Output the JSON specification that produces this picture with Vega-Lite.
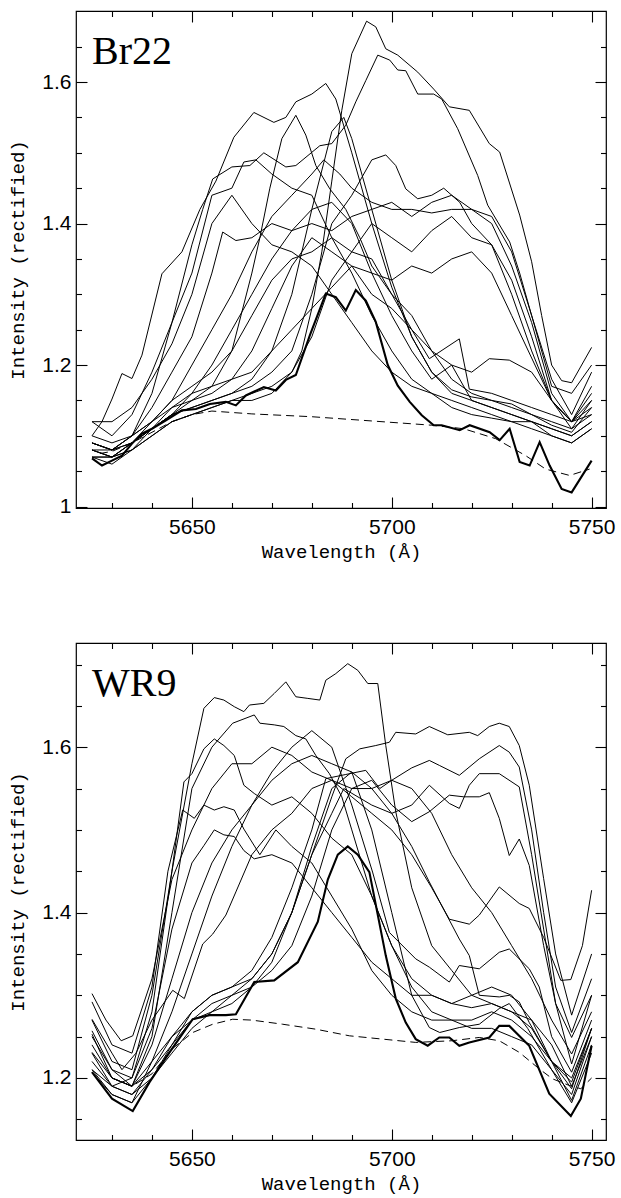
{
"$schema": "https://vega.github.io/schema/vega-lite/v6.json",
"background": "white",
"padding": {"left": 8, "top": 9, "right": 14, "bottom": 5},
"bounds": "flush",
"spacing": 135,
"config": {
  "view": {"stroke": "black", "strokeWidth": 1.2},
  "axis": {"domain": false, "grid": false, "tickColor": "black", "tickWidth": 1.1, "labelFont": "Liberation Sans", "labelFontSize": 21, "labelColor": "black", "titleFont": "Liberation Mono", "titleFontSize": 19, "titleFontWeight": "normal", "titleColor": "black", "labelOverlap": false, "labelFlush": false, "labelBound": false}
},
"datasets": {
"t": [
{"s":1,"x":5625,"y":1.1},{"s":1,"x":5627.5,"y":1.12},{"s":1,"x":5630,"y":1.152},{"s":1,"x":5632.5,"y":1.188},{"s":1,"x":5635,"y":1.181},{"s":1,"x":5637.5,"y":1.214},{"s":1,"x":5642.5,"y":1.329},{"s":1,"x":5647.5,"y":1.36},{"s":1,"x":5652,"y":1.42},{"s":1,"x":5656,"y":1.46},{"s":1,"x":5660.5,"y":1.522},{"s":1,"x":5665.5,"y":1.557},{"s":1,"x":5670.5,"y":1.543},{"s":1,"x":5673.5,"y":1.55},{"s":1,"x":5676,"y":1.572},{"s":1,"x":5680,"y":1.583},{"s":1,"x":5683.5,"y":1.598},{"s":1,"x":5686,"y":1.576},{"s":1,"x":5690,"y":1.5},{"s":1,"x":5695,"y":1.4},{"s":1,"x":5700,"y":1.31},{"s":1,"x":5705,"y":1.24},{"s":1,"x":5710,"y":1.19},{"s":1,"x":5715,"y":1.165},{"s":1,"x":5720,"y":1.155},{"s":1,"x":5725,"y":1.15},{"s":1,"x":5730,"y":1.145},{"s":1,"x":5735,"y":1.13},{"s":1,"x":5740,"y":1.115},{"s":1,"x":5745,"y":1.105},{"s":1,"x":5750,"y":1.14},
{"s":2,"x":5625,"y":1.08},{"s":2,"x":5630,"y":1.07},{"s":2,"x":5635,"y":1.08},{"s":2,"x":5640,"y":1.1},{"s":2,"x":5645,"y":1.12},{"s":2,"x":5650,"y":1.13},{"s":2,"x":5655,"y":1.14},{"s":2,"x":5660,"y":1.15},{"s":2,"x":5665,"y":1.15},{"s":2,"x":5670,"y":1.16},{"s":2,"x":5675,"y":1.19},{"s":2,"x":5677.5,"y":1.22},{"s":2,"x":5680,"y":1.28},{"s":2,"x":5682.5,"y":1.36},{"s":2,"x":5685,"y":1.46},{"s":2,"x":5687.5,"y":1.56},{"s":2,"x":5690,"y":1.64},{"s":2,"x":5693.7,"y":1.686},{"s":2,"x":5696,"y":1.678},{"s":2,"x":5698.5,"y":1.647},{"s":2,"x":5701.5,"y":1.638},{"s":2,"x":5706.5,"y":1.614},{"s":2,"x":5710.5,"y":1.59},{"s":2,"x":5714.4,"y":1.565},{"s":2,"x":5719.4,"y":1.56},{"s":2,"x":5724.4,"y":1.513},{"s":2,"x":5727,"y":1.501},{"s":2,"x":5732,"y":1.412},{"s":2,"x":5735,"y":1.346},{"s":2,"x":5737.5,"y":1.27},{"s":2,"x":5740,"y":1.2},{"s":2,"x":5742.5,"y":1.178},{"s":2,"x":5745,"y":1.175},{"s":2,"x":5750,"y":1.225},
{"s":3,"x":5625,"y":1.09},{"s":3,"x":5630,"y":1.08},{"s":3,"x":5635,"y":1.1},{"s":3,"x":5640,"y":1.16},{"s":3,"x":5645,"y":1.26},{"s":3,"x":5650,"y":1.37},{"s":3,"x":5652.7,"y":1.42},{"s":3,"x":5655.2,"y":1.463},{"s":3,"x":5660,"y":1.48},{"s":3,"x":5664.5,"y":1.482},{"s":3,"x":5668,"y":1.5},{"s":3,"x":5673.5,"y":1.48},{"s":3,"x":5676,"y":1.482},{"s":3,"x":5682,"y":1.51},{"s":3,"x":5685,"y":1.513},{"s":3,"x":5688.5,"y":1.539},{"s":3,"x":5691,"y":1.572},{"s":3,"x":5693.5,"y":1.602},{"s":3,"x":5696.5,"y":1.638},{"s":3,"x":5699.5,"y":1.631},{"s":3,"x":5701.5,"y":1.617},{"s":3,"x":5703.5,"y":1.616},{"s":3,"x":5706.5,"y":1.583},{"s":3,"x":5710.5,"y":1.583},{"s":3,"x":5712.5,"y":1.576},{"s":3,"x":5716.5,"y":1.534},{"s":3,"x":5721.5,"y":1.468},{"s":3,"x":5724,"y":1.426},{"s":3,"x":5729.5,"y":1.374},{"s":3,"x":5732,"y":1.33},{"s":3,"x":5735,"y":1.27},{"s":3,"x":5740,"y":1.17},{"s":3,"x":5745,"y":1.16},{"s":3,"x":5750,"y":1.2},
{"s":4,"x":5625,"y":1.12},{"s":4,"x":5630,"y":1.1},{"s":4,"x":5635,"y":1.13},{"s":4,"x":5640,"y":1.19},{"s":4,"x":5645,"y":1.26},{"s":4,"x":5650,"y":1.33},{"s":4,"x":5655,"y":1.44},{"s":4,"x":5660,"y":1.45},{"s":4,"x":5663,"y":1.487},{"s":4,"x":5666,"y":1.49},{"s":4,"x":5670,"y":1.47},{"s":4,"x":5675,"y":1.45},{"s":4,"x":5680,"y":1.44},{"s":4,"x":5685,"y":1.38},{"s":4,"x":5690,"y":1.33},{"s":4,"x":5695,"y":1.27},{"s":4,"x":5700,"y":1.22},{"s":4,"x":5705,"y":1.18},{"s":4,"x":5710,"y":1.16},{"s":4,"x":5715,"y":1.14},{"s":4,"x":5720,"y":1.13},{"s":4,"x":5725,"y":1.125},{"s":4,"x":5730,"y":1.12},{"s":4,"x":5735,"y":1.11},{"s":4,"x":5740,"y":1.1},{"s":4,"x":5745,"y":1.09},{"s":4,"x":5750,"y":1.11},
{"s":5,"x":5625,"y":1.1},{"s":5,"x":5630,"y":1.09},{"s":5,"x":5635,"y":1.1},{"s":5,"x":5640,"y":1.12},{"s":5,"x":5645,"y":1.15},{"s":5,"x":5650,"y":1.2},{"s":5,"x":5655,"y":1.25},{"s":5,"x":5660,"y":1.3},{"s":5,"x":5665,"y":1.36},{"s":5,"x":5670,"y":1.41},{"s":5,"x":5675,"y":1.44},{"s":5,"x":5680,"y":1.47},{"s":5,"x":5683,"y":1.49},{"s":5,"x":5687,"y":1.47},{"s":5,"x":5690,"y":1.45},{"s":5,"x":5695,"y":1.43},{"s":5,"x":5700,"y":1.42},{"s":5,"x":5705,"y":1.42},{"s":5,"x":5710,"y":1.415},{"s":5,"x":5715,"y":1.42},{"s":5,"x":5720,"y":1.42},{"s":5,"x":5725,"y":1.4},{"s":5,"x":5730,"y":1.34},{"s":5,"x":5735,"y":1.26},{"s":5,"x":5740,"y":1.16},{"s":5,"x":5745,"y":1.12},{"s":5,"x":5750,"y":1.17},
{"s":6,"x":5625,"y":1.09},{"s":6,"x":5630,"y":1.08},{"s":6,"x":5635,"y":1.09},{"s":6,"x":5640,"y":1.11},{"s":6,"x":5645,"y":1.13},{"s":6,"x":5650,"y":1.16},{"s":6,"x":5655,"y":1.2},{"s":6,"x":5660,"y":1.25},{"s":6,"x":5665,"y":1.3},{"s":6,"x":5670,"y":1.35},{"s":6,"x":5675,"y":1.39},{"s":6,"x":5680,"y":1.4},{"s":6,"x":5685,"y":1.39},{"s":6,"x":5690,"y":1.41},{"s":6,"x":5695,"y":1.42},{"s":6,"x":5700,"y":1.43},{"s":6,"x":5705,"y":1.41},{"s":6,"x":5710,"y":1.43},{"s":6,"x":5715,"y":1.44},{"s":6,"x":5720,"y":1.42},{"s":6,"x":5725,"y":1.41},{"s":6,"x":5730,"y":1.36},{"s":6,"x":5735,"y":1.27},{"s":6,"x":5740,"y":1.18},{"s":6,"x":5745,"y":1.13},{"s":6,"x":5750,"y":1.19},
{"s":7,"x":5625,"y":1.08},{"s":7,"x":5630,"y":1.07},{"s":7,"x":5635,"y":1.09},{"s":7,"x":5640,"y":1.12},{"s":7,"x":5645,"y":1.15},{"s":7,"x":5650,"y":1.17},{"s":7,"x":5655,"y":1.19},{"s":7,"x":5660,"y":1.22},{"s":7,"x":5665,"y":1.27},{"s":7,"x":5670,"y":1.32},{"s":7,"x":5675,"y":1.35},{"s":7,"x":5680,"y":1.36},{"s":7,"x":5685,"y":1.38},{"s":7,"x":5690,"y":1.36},{"s":7,"x":5695,"y":1.4},{"s":7,"x":5700,"y":1.38},{"s":7,"x":5705,"y":1.36},{"s":7,"x":5710,"y":1.39},{"s":7,"x":5715,"y":1.41},{"s":7,"x":5720,"y":1.38},{"s":7,"x":5725,"y":1.37},{"s":7,"x":5730,"y":1.32},{"s":7,"x":5735,"y":1.24},{"s":7,"x":5740,"y":1.15},{"s":7,"x":5745,"y":1.11},{"s":7,"x":5750,"y":1.15},
{"s":8,"x":5625,"y":1.07},{"s":8,"x":5630,"y":1.07},{"s":8,"x":5635,"y":1.08},{"s":8,"x":5640,"y":1.11},{"s":8,"x":5645,"y":1.14},{"s":8,"x":5650,"y":1.16},{"s":8,"x":5655,"y":1.17},{"s":8,"x":5660,"y":1.18},{"s":8,"x":5665,"y":1.19},{"s":8,"x":5670,"y":1.22},{"s":8,"x":5675,"y":1.25},{"s":8,"x":5680,"y":1.28},{"s":8,"x":5685,"y":1.31},{"s":8,"x":5690,"y":1.34},{"s":8,"x":5695,"y":1.33},{"s":8,"x":5700,"y":1.32},{"s":8,"x":5705,"y":1.34},{"s":8,"x":5710,"y":1.33},{"s":8,"x":5715,"y":1.35},{"s":8,"x":5720,"y":1.36},{"s":8,"x":5725,"y":1.33},{"s":8,"x":5730,"y":1.27},{"s":8,"x":5735,"y":1.21},{"s":8,"x":5740,"y":1.15},{"s":8,"x":5745,"y":1.12},{"s":8,"x":5750,"y":1.14},
{"s":9,"x":5625,"y":1.07},{"s":9,"x":5630,"y":1.07},{"s":9,"x":5635,"y":1.09},{"s":9,"x":5640,"y":1.11},{"s":9,"x":5645,"y":1.13},{"s":9,"x":5650,"y":1.14},{"s":9,"x":5655,"y":1.15},{"s":9,"x":5660,"y":1.16},{"s":9,"x":5665,"y":1.18},{"s":9,"x":5670,"y":1.22},{"s":9,"x":5675,"y":1.3},{"s":9,"x":5680,"y":1.42},{"s":9,"x":5685,"y":1.53},{"s":9,"x":5688,"y":1.55},{"s":9,"x":5690,"y":1.52},{"s":9,"x":5695,"y":1.42},{"s":9,"x":5700,"y":1.32},{"s":9,"x":5705,"y":1.24},{"s":9,"x":5710,"y":1.19},{"s":9,"x":5715,"y":1.16},{"s":9,"x":5720,"y":1.15},{"s":9,"x":5725,"y":1.14},{"s":9,"x":5730,"y":1.13},{"s":9,"x":5735,"y":1.12},{"s":9,"x":5740,"y":1.1},{"s":9,"x":5745,"y":1.09},{"s":9,"x":5750,"y":1.11},
{"s":10,"x":5625,"y":1.09},{"s":10,"x":5630,"y":1.08},{"s":10,"x":5635,"y":1.1},{"s":10,"x":5640,"y":1.14},{"s":10,"x":5645,"y":1.19},{"s":10,"x":5650,"y":1.24},{"s":10,"x":5655,"y":1.33},{"s":10,"x":5657.7,"y":1.388},{"s":10,"x":5661,"y":1.376},{"s":10,"x":5665,"y":1.38},{"s":10,"x":5670,"y":1.4},{"s":10,"x":5675,"y":1.39},{"s":10,"x":5680,"y":1.42},{"s":10,"x":5685,"y":1.43},{"s":10,"x":5690,"y":1.4},{"s":10,"x":5695,"y":1.33},{"s":10,"x":5700,"y":1.27},{"s":10,"x":5705,"y":1.22},{"s":10,"x":5710,"y":1.18},{"s":10,"x":5715,"y":1.2},{"s":10,"x":5720,"y":1.15},{"s":10,"x":5725,"y":1.14},{"s":10,"x":5730,"y":1.13},{"s":10,"x":5735,"y":1.12},{"s":10,"x":5740,"y":1.11},{"s":10,"x":5745,"y":1.1},{"s":10,"x":5750,"y":1.12},
{"s":11,"x":5625,"y":1.08},{"s":11,"x":5630,"y":1.08},{"s":11,"x":5635,"y":1.1},{"s":11,"x":5640,"y":1.12},{"s":11,"x":5645,"y":1.14},{"s":11,"x":5650,"y":1.15},{"s":11,"x":5655,"y":1.16},{"s":11,"x":5660,"y":1.18},{"s":11,"x":5665,"y":1.22},{"s":11,"x":5670,"y":1.28},{"s":11,"x":5675,"y":1.34},{"s":11,"x":5680,"y":1.38},{"s":11,"x":5685,"y":1.36},{"s":11,"x":5690,"y":1.34},{"s":11,"x":5695,"y":1.3},{"s":11,"x":5700,"y":1.28},{"s":11,"x":5705,"y":1.25},{"s":11,"x":5709.4,"y":1.209},{"s":11,"x":5716.9,"y":1.237},{"s":11,"x":5719.4,"y":1.166},{"s":11,"x":5725,"y":1.16},{"s":11,"x":5730,"y":1.15},{"s":11,"x":5735,"y":1.14},{"s":11,"x":5740,"y":1.13},{"s":11,"x":5745,"y":1.12},{"s":11,"x":5750,"y":1.16},
{"s":12,"x":5625,"y":1.07},{"s":12,"x":5630,"y":1.06},{"s":12,"x":5635,"y":1.08},{"s":12,"x":5640,"y":1.1},{"s":12,"x":5645,"y":1.12},{"s":12,"x":5650,"y":1.13},{"s":12,"x":5655,"y":1.14},{"s":12,"x":5660,"y":1.15},{"s":12,"x":5665,"y":1.16},{"s":12,"x":5670,"y":1.17},{"s":12,"x":5675,"y":1.19},{"s":12,"x":5680,"y":1.24},{"s":12,"x":5685,"y":1.32},{"s":12,"x":5690,"y":1.36},{"s":12,"x":5695,"y":1.35},{"s":12,"x":5700,"y":1.3},{"s":12,"x":5705,"y":1.25},{"s":12,"x":5710,"y":1.22},{"s":12,"x":5715,"y":1.2},{"s":12,"x":5720,"y":1.19},{"s":12,"x":5724.4,"y":1.209},{"s":12,"x":5729.4,"y":1.207},{"s":12,"x":5735,"y":1.19},{"s":12,"x":5740,"y":1.15},{"s":12,"x":5742.5,"y":1.134},{"s":12,"x":5745,"y":1.12},{"s":12,"x":5750,"y":1.13},
{"s":13,"x":5625,"y":1.12},{"s":13,"x":5630,"y":1.12},{"s":13,"x":5635,"y":1.14},{"s":13,"x":5640,"y":1.18},{"s":13,"x":5645,"y":1.23},{"s":13,"x":5650,"y":1.3},{"s":13,"x":5655,"y":1.4},{"s":13,"x":5660,"y":1.44},{"s":13,"x":5665,"y":1.4},{"s":13,"x":5670,"y":1.37},{"s":13,"x":5675,"y":1.36},{"s":13,"x":5680,"y":1.34},{"s":13,"x":5685,"y":1.3},{"s":13,"x":5690,"y":1.26},{"s":13,"x":5695,"y":1.22},{"s":13,"x":5700,"y":1.19},{"s":13,"x":5705,"y":1.17},{"s":13,"x":5710,"y":1.16},{"s":13,"x":5715,"y":1.15},{"s":13,"x":5720,"y":1.14},{"s":13,"x":5725,"y":1.13},{"s":13,"x":5730,"y":1.12},{"s":13,"x":5735,"y":1.12},{"s":13,"x":5740,"y":1.11},{"s":13,"x":5745,"y":1.1},{"s":13,"x":5750,"y":1.12},
{"s":14,"x":5625,"y":1.08},{"s":14,"x":5630,"y":1.07},{"s":14,"x":5635,"y":1.09},{"s":14,"x":5640,"y":1.11},{"s":14,"x":5645,"y":1.13},{"s":14,"x":5650,"y":1.14},{"s":14,"x":5655,"y":1.15},{"s":14,"x":5660,"y":1.16},{"s":14,"x":5665,"y":1.17},{"s":14,"x":5670,"y":1.19},{"s":14,"x":5675,"y":1.22},{"s":14,"x":5680,"y":1.3},{"s":14,"x":5685,"y":1.4},{"s":14,"x":5690,"y":1.44},{"s":14,"x":5695,"y":1.49},{"s":14,"x":5698.5,"y":1.497},{"s":14,"x":5701,"y":1.482},{"s":14,"x":5703.5,"y":1.449},{"s":14,"x":5706.5,"y":1.435},{"s":14,"x":5710,"y":1.44},{"s":14,"x":5713,"y":1.45},{"s":14,"x":5717,"y":1.43},{"s":14,"x":5720,"y":1.4},{"s":14,"x":5725,"y":1.37},{"s":14,"x":5730,"y":1.3},{"s":14,"x":5735,"y":1.22},{"s":14,"x":5740,"y":1.15},{"s":14,"x":5745,"y":1.12},{"s":14,"x":5750,"y":1.15},
{"s":15,"x":5625,"y":1.09},{"s":15,"x":5630,"y":1.08},{"s":15,"x":5635,"y":1.09},{"s":15,"x":5640,"y":1.11},{"s":15,"x":5645,"y":1.13},{"s":15,"x":5650,"y":1.15},{"s":15,"x":5655,"y":1.17},{"s":15,"x":5660,"y":1.22},{"s":15,"x":5665,"y":1.33},{"s":15,"x":5667,"y":1.38},{"s":15,"x":5669.5,"y":1.45},{"s":15,"x":5672.5,"y":1.52},{"s":15,"x":5676,"y":1.553},{"s":15,"x":5678.5,"y":1.525},{"s":15,"x":5681,"y":1.482},{"s":15,"x":5684.5,"y":1.449},{"s":15,"x":5688.5,"y":1.42},{"s":15,"x":5692,"y":1.38},{"s":15,"x":5695,"y":1.34},{"s":15,"x":5700,"y":1.3},{"s":15,"x":5705,"y":1.27},{"s":15,"x":5710,"y":1.22},{"s":15,"x":5715,"y":1.18},{"s":15,"x":5720,"y":1.16},{"s":15,"x":5725,"y":1.15},{"s":15,"x":5730,"y":1.14},{"s":15,"x":5735,"y":1.13},{"s":15,"x":5740,"y":1.12},{"s":15,"x":5745,"y":1.11},{"s":15,"x":5750,"y":1.13}
],
"tb": [
{"x":5625,"y":1.068},{"x":5627.5,"y":1.058},{"x":5630,"y":1.065},{"x":5632.5,"y":1.072},{"x":5635,"y":1.089},{"x":5637.5,"y":1.103},{"x":5640,"y":1.11},{"x":5643.5,"y":1.122},{"x":5647.5,"y":1.136},{"x":5651,"y":1.138},{"x":5654.5,"y":1.145},{"x":5658.5,"y":1.148},{"x":5661,"y":1.143},{"x":5663.5,"y":1.157},{"x":5668,"y":1.169},{"x":5671,"y":1.164},{"x":5673.5,"y":1.179},{"x":5676,"y":1.186},{"x":5679.5,"y":1.242},{"x":5683.5,"y":1.301},{"x":5686,"y":1.296},{"x":5688.5,"y":1.277},{"x":5691,"y":1.306},{"x":5693.5,"y":1.291},{"x":5696,"y":1.261},{"x":5699,"y":1.2},{"x":5701.5,"y":1.171},{"x":5704.5,"y":1.148},{"x":5707.5,"y":1.129},{"x":5710.5,"y":1.115},{"x":5712.5,"y":1.115},{"x":5717,"y":1.108},{"x":5719.5,"y":1.115},{"x":5724.5,"y":1.105},{"x":5727,"y":1.094},{"x":5729.5,"y":1.11},{"x":5732,"y":1.063},{"x":5734.5,"y":1.058},{"x":5737,"y":1.091},{"x":5739.5,"y":1.058},{"x":5742.5,"y":1.025},{"x":5745,"y":1.02},{"x":5750,"y":1.065}
],
"td": [
{"x":5627,"y":1.075},{"x":5630,"y":1.078},{"x":5635,"y":1.09},{"x":5640,"y":1.105},{"x":5645,"y":1.12},{"x":5650,"y":1.13},{"x":5655,"y":1.135},{"x":5665,"y":1.131},{"x":5680,"y":1.127},{"x":5695,"y":1.121},{"x":5710,"y":1.115},{"x":5718,"y":1.11},{"x":5726,"y":1.096},{"x":5733.5,"y":1.072},{"x":5738.5,"y":1.053},{"x":5744.5,"y":1.044},{"x":5749.5,"y":1.053}
],
"b": [
{"s":1,"x":5625,"y":1.25},{"s":1,"x":5630,"y":1.21},{"s":1,"x":5635,"y":1.2},{"s":1,"x":5640,"y":1.28},{"s":1,"x":5645,"y":1.45},{"s":1,"x":5650,"y":1.58},{"s":1,"x":5653,"y":1.647},{"s":1,"x":5655.6,"y":1.66},{"s":1,"x":5658,"y":1.657},{"s":1,"x":5660.6,"y":1.649},{"s":1,"x":5663,"y":1.643},{"s":1,"x":5664.4,"y":1.651},{"s":1,"x":5668,"y":1.653},{"s":1,"x":5670.6,"y":1.665},{"s":1,"x":5673.5,"y":1.679},{"s":1,"x":5676,"y":1.661},{"s":1,"x":5679,"y":1.659},{"s":1,"x":5682,"y":1.657},{"s":1,"x":5683.5,"y":1.681},{"s":1,"x":5686,"y":1.689},{"s":1,"x":5689,"y":1.701},{"s":1,"x":5691.5,"y":1.693},{"s":1,"x":5694,"y":1.677},{"s":1,"x":5696.5,"y":1.677},{"s":1,"x":5698.5,"y":1.602},{"s":1,"x":5701,"y":1.522},{"s":1,"x":5705,"y":1.43},{"s":1,"x":5710,"y":1.36},{"s":1,"x":5715,"y":1.33},{"s":1,"x":5720,"y":1.3},{"s":1,"x":5725,"y":1.29},{"s":1,"x":5730,"y":1.28},{"s":1,"x":5735,"y":1.27},{"s":1,"x":5740,"y":1.24},{"s":1,"x":5745,"y":1.19},{"s":1,"x":5750,"y":1.25},
{"s":2,"x":5625,"y":1.27},{"s":2,"x":5630,"y":1.22},{"s":2,"x":5635,"y":1.21},{"s":2,"x":5640,"y":1.3},{"s":2,"x":5645,"y":1.45},{"s":2,"x":5648,"y":1.558},{"s":2,"x":5650,"y":1.568},{"s":2,"x":5653,"y":1.598},{"s":2,"x":5655.6,"y":1.61},{"s":2,"x":5658,"y":1.602},{"s":2,"x":5660.6,"y":1.59},{"s":2,"x":5663,"y":1.554},{"s":2,"x":5665.6,"y":1.544},{"s":2,"x":5670,"y":1.53},{"s":2,"x":5675,"y":1.54},{"s":2,"x":5680,"y":1.52},{"s":2,"x":5685,"y":1.49},{"s":2,"x":5690,"y":1.47},{"s":2,"x":5695,"y":1.42},{"s":2,"x":5700,"y":1.36},{"s":2,"x":5705,"y":1.31},{"s":2,"x":5710,"y":1.28},{"s":2,"x":5715,"y":1.27},{"s":2,"x":5720,"y":1.26},{"s":2,"x":5725,"y":1.26},{"s":2,"x":5730,"y":1.25},{"s":2,"x":5735,"y":1.24},{"s":2,"x":5740,"y":1.21},{"s":2,"x":5745,"y":1.17},{"s":2,"x":5750,"y":1.23},
{"s":3,"x":5625,"y":1.292},{"s":3,"x":5630,"y":1.24},{"s":3,"x":5635,"y":1.23},{"s":3,"x":5640,"y":1.31},{"s":3,"x":5644,"y":1.45},{"s":3,"x":5647.7,"y":1.524},{"s":3,"x":5650.6,"y":1.514},{"s":3,"x":5653,"y":1.53},{"s":3,"x":5655.6,"y":1.524},{"s":3,"x":5658,"y":1.528},{"s":3,"x":5660.6,"y":1.524},{"s":3,"x":5663,"y":1.501},{"s":3,"x":5667,"y":1.47},{"s":3,"x":5671,"y":1.5},{"s":3,"x":5675,"y":1.48},{"s":3,"x":5680,"y":1.46},{"s":3,"x":5685,"y":1.42},{"s":3,"x":5690,"y":1.38},{"s":3,"x":5695,"y":1.33},{"s":3,"x":5700,"y":1.3},{"s":3,"x":5705,"y":1.28},{"s":3,"x":5710,"y":1.27},{"s":3,"x":5715,"y":1.27},{"s":3,"x":5720,"y":1.27},{"s":3,"x":5725,"y":1.28},{"s":3,"x":5730,"y":1.27},{"s":3,"x":5735,"y":1.25},{"s":3,"x":5740,"y":1.22},{"s":3,"x":5745,"y":1.2},{"s":3,"x":5750,"y":1.26},
{"s":4,"x":5625,"y":1.22},{"s":4,"x":5630,"y":1.19},{"s":4,"x":5635,"y":1.2},{"s":4,"x":5640,"y":1.26},{"s":4,"x":5645,"y":1.38},{"s":4,"x":5650,"y":1.46},{"s":4,"x":5653,"y":1.481},{"s":4,"x":5655.6,"y":1.5},{"s":4,"x":5658,"y":1.494},{"s":4,"x":5660.6,"y":1.492},{"s":4,"x":5663,"y":1.475},{"s":4,"x":5665.6,"y":1.465},{"s":4,"x":5670,"y":1.47},{"s":4,"x":5675,"y":1.46},{"s":4,"x":5680,"y":1.43},{"s":4,"x":5685,"y":1.4},{"s":4,"x":5690,"y":1.37},{"s":4,"x":5695,"y":1.34},{"s":4,"x":5700,"y":1.32},{"s":4,"x":5705,"y":1.3},{"s":4,"x":5710,"y":1.3},{"s":4,"x":5715,"y":1.29},{"s":4,"x":5720,"y":1.3},{"s":4,"x":5725,"y":1.31},{"s":4,"x":5730,"y":1.3},{"s":4,"x":5735,"y":1.27},{"s":4,"x":5740,"y":1.22},{"s":4,"x":5745,"y":1.173},{"s":4,"x":5750,"y":1.24},
{"s":5,"x":5625,"y":1.257},{"s":5,"x":5630,"y":1.21},{"s":5,"x":5635,"y":1.19},{"s":5,"x":5640,"y":1.25},{"s":5,"x":5645,"y":1.4},{"s":5,"x":5650,"y":1.55},{"s":5,"x":5655,"y":1.6},{"s":5,"x":5660.2,"y":1.629},{"s":5,"x":5665.6,"y":1.639},{"s":5,"x":5667,"y":1.629},{"s":5,"x":5670.6,"y":1.627},{"s":5,"x":5673,"y":1.625},{"s":5,"x":5676,"y":1.614},{"s":5,"x":5678.5,"y":1.61},{"s":5,"x":5681,"y":1.59},{"s":5,"x":5684.4,"y":1.568},{"s":5,"x":5687.5,"y":1.54},{"s":5,"x":5690,"y":1.5},{"s":5,"x":5695,"y":1.42},{"s":5,"x":5700,"y":1.36},{"s":5,"x":5705,"y":1.32},{"s":5,"x":5710,"y":1.3},{"s":5,"x":5715,"y":1.29},{"s":5,"x":5720,"y":1.285},{"s":5,"x":5725,"y":1.29},{"s":5,"x":5730,"y":1.28},{"s":5,"x":5735,"y":1.26},{"s":5,"x":5740,"y":1.22},{"s":5,"x":5745,"y":1.195},{"s":5,"x":5750,"y":1.26},
{"s":6,"x":5625,"y":1.21},{"s":6,"x":5630,"y":1.19},{"s":6,"x":5635,"y":1.18},{"s":6,"x":5640,"y":1.21},{"s":6,"x":5645,"y":1.24},{"s":6,"x":5650,"y":1.27},{"s":6,"x":5655,"y":1.29},{"s":6,"x":5660,"y":1.3},{"s":6,"x":5665,"y":1.32},{"s":6,"x":5670,"y":1.35},{"s":6,"x":5675,"y":1.4},{"s":6,"x":5680,"y":1.47},{"s":6,"x":5685,"y":1.54},{"s":6,"x":5688.5,"y":1.586},{"s":6,"x":5692,"y":1.598},{"s":6,"x":5696,"y":1.602},{"s":6,"x":5699.4,"y":1.606},{"s":6,"x":5701,"y":1.618},{"s":6,"x":5706,"y":1.616},{"s":6,"x":5709.4,"y":1.625},{"s":6,"x":5714,"y":1.615},{"s":6,"x":5719.4,"y":1.618},{"s":6,"x":5721.5,"y":1.614},{"s":6,"x":5724.4,"y":1.625},{"s":6,"x":5726.9,"y":1.629},{"s":6,"x":5729.4,"y":1.625},{"s":6,"x":5731.9,"y":1.602},{"s":6,"x":5734.4,"y":1.554},{"s":6,"x":5738,"y":1.441},{"s":6,"x":5741,"y":1.35},{"s":6,"x":5745,"y":1.276},{"s":6,"x":5750,"y":1.35},
{"s":7,"x":5625,"y":1.24},{"s":7,"x":5630,"y":1.2},{"s":7,"x":5635,"y":1.19},{"s":7,"x":5640,"y":1.22},{"s":7,"x":5645,"y":1.25},{"s":7,"x":5650,"y":1.28},{"s":7,"x":5655,"y":1.3},{"s":7,"x":5660,"y":1.31},{"s":7,"x":5665,"y":1.33},{"s":7,"x":5670,"y":1.37},{"s":7,"x":5675,"y":1.43},{"s":7,"x":5680,"y":1.5},{"s":7,"x":5683.5,"y":1.562},{"s":7,"x":5688.5,"y":1.567},{"s":7,"x":5693.5,"y":1.572},{"s":7,"x":5697,"y":1.55},{"s":7,"x":5700,"y":1.56},{"s":7,"x":5705,"y":1.575},{"s":7,"x":5709.4,"y":1.584},{"s":7,"x":5711.9,"y":1.578},{"s":7,"x":5716.9,"y":1.566},{"s":7,"x":5721.9,"y":1.586},{"s":7,"x":5726.9,"y":1.602},{"s":7,"x":5729.4,"y":1.594},{"s":7,"x":5731.9,"y":1.576},{"s":7,"x":5735,"y":1.5},{"s":7,"x":5738,"y":1.4},{"s":7,"x":5741,"y":1.31},{"s":7,"x":5745,"y":1.255},{"s":7,"x":5750,"y":1.32},
{"s":8,"x":5625,"y":1.23},{"s":8,"x":5630,"y":1.19},{"s":8,"x":5635,"y":1.18},{"s":8,"x":5640,"y":1.2},{"s":8,"x":5645,"y":1.23},{"s":8,"x":5650,"y":1.26},{"s":8,"x":5655,"y":1.28},{"s":8,"x":5660,"y":1.29},{"s":8,"x":5665,"y":1.31},{"s":8,"x":5670,"y":1.34},{"s":8,"x":5675,"y":1.4},{"s":8,"x":5680,"y":1.47},{"s":8,"x":5685,"y":1.52},{"s":8,"x":5688,"y":1.55},{"s":8,"x":5695,"y":1.53},{"s":8,"x":5700,"y":1.52},{"s":8,"x":5705,"y":1.53},{"s":8,"x":5709.4,"y":1.554},{"s":8,"x":5714.4,"y":1.532},{"s":8,"x":5716.9,"y":1.526},{"s":8,"x":5719.4,"y":1.554},{"s":8,"x":5721.9,"y":1.568},{"s":8,"x":5726.9,"y":1.568},{"s":8,"x":5731.9,"y":1.552},{"s":8,"x":5735,"y":1.47},{"s":8,"x":5738,"y":1.38},{"s":8,"x":5741,"y":1.29},{"s":8,"x":5745,"y":1.217},{"s":8,"x":5750,"y":1.3},
{"s":9,"x":5625,"y":1.231},{"s":9,"x":5630,"y":1.2},{"s":9,"x":5635,"y":1.19},{"s":9,"x":5640,"y":1.21},{"s":9,"x":5645,"y":1.25},{"s":9,"x":5650,"y":1.27},{"s":9,"x":5655,"y":1.28},{"s":9,"x":5660,"y":1.3},{"s":9,"x":5665,"y":1.31},{"s":9,"x":5670,"y":1.33},{"s":9,"x":5675,"y":1.36},{"s":9,"x":5680,"y":1.42},{"s":9,"x":5685,"y":1.5},{"s":9,"x":5690,"y":1.55},{"s":9,"x":5695,"y":1.56},{"s":9,"x":5700,"y":1.53},{"s":9,"x":5705,"y":1.51},{"s":9,"x":5709.4,"y":1.522},{"s":9,"x":5714.4,"y":1.542},{"s":9,"x":5718,"y":1.54},{"s":9,"x":5721.9,"y":1.54},{"s":9,"x":5724.4,"y":1.545},{"s":9,"x":5726.9,"y":1.514},{"s":9,"x":5729.4,"y":1.469},{"s":9,"x":5731.9,"y":1.489},{"s":9,"x":5734.4,"y":1.457},{"s":9,"x":5738,"y":1.36},{"s":9,"x":5741,"y":1.29},{"s":9,"x":5745,"y":1.249},{"s":9,"x":5750,"y":1.3},
{"s":10,"x":5625,"y":1.302},{"s":10,"x":5628.5,"y":1.27},{"s":10,"x":5632.3,"y":1.245},{"s":10,"x":5635.2,"y":1.251},{"s":10,"x":5640,"y":1.32},{"s":10,"x":5645,"y":1.44},{"s":10,"x":5650,"y":1.5},{"s":10,"x":5655,"y":1.55},{"s":10,"x":5660,"y":1.58},{"s":10,"x":5665,"y":1.58},{"s":10,"x":5670,"y":1.6},{"s":10,"x":5675,"y":1.59},{"s":10,"x":5680,"y":1.57},{"s":10,"x":5685,"y":1.56},{"s":10,"x":5690,"y":1.54},{"s":10,"x":5695,"y":1.52},{"s":10,"x":5700,"y":1.5},{"s":10,"x":5705,"y":1.47},{"s":10,"x":5710,"y":1.43},{"s":10,"x":5714.4,"y":1.392},{"s":10,"x":5719.4,"y":1.386},{"s":10,"x":5721.9,"y":1.397},{"s":10,"x":5726.9,"y":1.431},{"s":10,"x":5731.9,"y":1.411},{"s":10,"x":5734.4,"y":1.405},{"s":10,"x":5738,"y":1.37},{"s":10,"x":5742.3,"y":1.318},{"s":10,"x":5744.8,"y":1.319},{"s":10,"x":5747.7,"y":1.36},{"s":10,"x":5750,"y":1.427},
{"s":11,"x":5625,"y":1.253},{"s":11,"x":5630,"y":1.2},{"s":11,"x":5635,"y":1.19},{"s":11,"x":5640,"y":1.24},{"s":11,"x":5645,"y":1.32},{"s":11,"x":5650,"y":1.4},{"s":11,"x":5655,"y":1.46},{"s":11,"x":5660,"y":1.5},{"s":11,"x":5665,"y":1.53},{"s":11,"x":5670,"y":1.56},{"s":11,"x":5675,"y":1.58},{"s":11,"x":5680,"y":1.59},{"s":11,"x":5685,"y":1.58},{"s":11,"x":5690,"y":1.57},{"s":11,"x":5695,"y":1.55},{"s":11,"x":5700,"y":1.52},{"s":11,"x":5705,"y":1.48},{"s":11,"x":5709.4,"y":1.437},{"s":11,"x":5716.9,"y":1.368},{"s":11,"x":5719.4,"y":1.348},{"s":11,"x":5721.9,"y":1.3},{"s":11,"x":5726.9,"y":1.298},{"s":11,"x":5729.4,"y":1.3},{"s":11,"x":5731.9,"y":1.292},{"s":11,"x":5734.4,"y":1.267},{"s":11,"x":5740,"y":1.22},{"s":11,"x":5745,"y":1.187},{"s":11,"x":5750,"y":1.26},
{"s":12,"x":5625,"y":1.207},{"s":12,"x":5630,"y":1.18},{"s":12,"x":5635,"y":1.17},{"s":12,"x":5640,"y":1.22},{"s":12,"x":5645,"y":1.28},{"s":12,"x":5650,"y":1.35},{"s":12,"x":5655,"y":1.42},{"s":12,"x":5660,"y":1.48},{"s":12,"x":5665,"y":1.53},{"s":12,"x":5670,"y":1.57},{"s":12,"x":5675,"y":1.6},{"s":12,"x":5680,"y":1.62},{"s":12,"x":5685,"y":1.6},{"s":12,"x":5690,"y":1.53},{"s":12,"x":5695.2,"y":1.449},{"s":12,"x":5699.4,"y":1.376},{"s":12,"x":5706,"y":1.344},{"s":12,"x":5709.4,"y":1.334},{"s":12,"x":5714.4,"y":1.316},{"s":12,"x":5716.9,"y":1.336},{"s":12,"x":5721.9,"y":1.332},{"s":12,"x":5726.9,"y":1.352},{"s":12,"x":5729.4,"y":1.356},{"s":12,"x":5734.4,"y":1.332},{"s":12,"x":5736.9,"y":1.31},{"s":12,"x":5740,"y":1.25},{"s":12,"x":5745,"y":1.207},{"s":12,"x":5750,"y":1.27},
{"s":13,"x":5625,"y":1.21},{"s":13,"x":5630,"y":1.18},{"s":13,"x":5635,"y":1.17},{"s":13,"x":5640,"y":1.2},{"s":13,"x":5645,"y":1.24},{"s":13,"x":5650,"y":1.28},{"s":13,"x":5655,"y":1.3},{"s":13,"x":5660,"y":1.31},{"s":13,"x":5665,"y":1.32},{"s":13,"x":5670,"y":1.35},{"s":13,"x":5675,"y":1.4},{"s":13,"x":5680,"y":1.48},{"s":13,"x":5685,"y":1.55},{"s":13,"x":5690,"y":1.57},{"s":13,"x":5695,"y":1.5},{"s":13,"x":5700,"y":1.4},{"s":13,"x":5705,"y":1.3},{"s":13,"x":5709.4,"y":1.261},{"s":13,"x":5712,"y":1.255},{"s":13,"x":5716.9,"y":1.261},{"s":13,"x":5721.9,"y":1.265},{"s":13,"x":5726.9,"y":1.284},{"s":13,"x":5729.4,"y":1.29},{"s":13,"x":5734,"y":1.26},{"s":13,"x":5740,"y":1.21},{"s":13,"x":5745,"y":1.18},{"s":13,"x":5750,"y":1.25},
{"s":14,"x":5625,"y":1.271},{"s":14,"x":5630,"y":1.23},{"s":14,"x":5632.5,"y":1.21},{"s":14,"x":5636,"y":1.23},{"s":14,"x":5640,"y":1.27},{"s":14,"x":5645.2,"y":1.306},{"s":14,"x":5648.1,"y":1.296},{"s":14,"x":5652.7,"y":1.362},{"s":14,"x":5655.2,"y":1.374},{"s":14,"x":5658.5,"y":1.397},{"s":14,"x":5661,"y":1.425},{"s":14,"x":5665,"y":1.47},{"s":14,"x":5670,"y":1.5},{"s":14,"x":5675,"y":1.52},{"s":14,"x":5680,"y":1.55},{"s":14,"x":5685,"y":1.56},{"s":14,"x":5690,"y":1.55},{"s":14,"x":5695,"y":1.55},{"s":14,"x":5700,"y":1.56},{"s":14,"x":5705,"y":1.55},{"s":14,"x":5710,"y":1.52},{"s":14,"x":5715,"y":1.47},{"s":14,"x":5720,"y":1.43},{"s":14,"x":5725,"y":1.4},{"s":14,"x":5730,"y":1.36},{"s":14,"x":5735,"y":1.32},{"s":14,"x":5740,"y":1.27},{"s":14,"x":5745,"y":1.229},{"s":14,"x":5750,"y":1.28}
],
"bb": [
{"x":5625,"y":1.207},{"x":5630,"y":1.175},{"x":5635.2,"y":1.16},{"x":5639.4,"y":1.195},{"x":5644.4,"y":1.231},{"x":5650.2,"y":1.271},{"x":5654.4,"y":1.276},{"x":5658.5,"y":1.276},{"x":5661,"y":1.277},{"x":5665.6,"y":1.316},{"x":5670.6,"y":1.318},{"x":5676.5,"y":1.34},{"x":5681.5,"y":1.389},{"x":5684,"y":1.44},{"x":5686.5,"y":1.47},{"x":5689,"y":1.48},{"x":5691.5,"y":1.47},{"x":5694.4,"y":1.449},{"x":5698.5,"y":1.348},{"x":5701,"y":1.296},{"x":5703.5,"y":1.267},{"x":5706,"y":1.247},{"x":5709,"y":1.239},{"x":5711.9,"y":1.249},{"x":5714.4,"y":1.249},{"x":5716.9,"y":1.239},{"x":5719.4,"y":1.243},{"x":5724.4,"y":1.249},{"x":5726.9,"y":1.263},{"x":5729.4,"y":1.263},{"x":5734.4,"y":1.239},{"x":5739.4,"y":1.181},{"x":5744.8,"y":1.154},{"x":5747.3,"y":1.175},{"x":5750,"y":1.239}
],
"bd": [
{"x":5630,"y":1.2},{"x":5635,"y":1.19},{"x":5640,"y":1.205},{"x":5645,"y":1.235},{"x":5650.2,"y":1.255},{"x":5655.2,"y":1.265},{"x":5660.2,"y":1.271},{"x":5665,"y":1.27},{"x":5672.7,"y":1.265},{"x":5681,"y":1.259},{"x":5689.4,"y":1.251},{"x":5697.7,"y":1.247},{"x":5706,"y":1.243},{"x":5715,"y":1.245},{"x":5721.9,"y":1.249},{"x":5726.9,"y":1.245},{"x":5731.9,"y":1.231},{"x":5736.9,"y":1.211},{"x":5740.2,"y":1.199},{"x":5744.4,"y":1.191},{"x":5747.3,"y":1.187},{"x":5750,"y":1.2}
]
},
"vconcat": [
{
  "width": 530, "height": 497,
  "title": {"text": "Br22", "anchor": "start", "frame": "group", "offset": -94, "dx": 16, "baseline": "alphabetic", "font": "Liberation Serif", "fontSize": 40, "fontWeight": "normal", "color": "black"},
  "resolve": {"axis": {"x": "independent", "y": "independent"}},
  "layer": [
    {"data": {"name": "t"}, "mark": {"type": "line", "color": "black", "strokeWidth": 1},
     "encoding": {
       "x": {"field": "x", "type": "quantitative", "scale": {"domain": [5621, 5753.6], "nice": false, "zero": false},
             "axis": {"orient": "bottom", "values": [5630,5640,5650,5660,5670,5680,5690,5700,5710,5720,5730,5740,5750], "labelExpr": "datum.value % 50 == 0 ? '' + datum.value : ''", "tickSize": {"condition": {"test": "datum.value % 50 == 0", "value": -11}, "value": -5.5}, "labelPadding": 19, "title": "Wavelength (Å)", "titlePadding": 0}},
       "y": {"field": "y", "type": "quantitative", "scale": {"domain": [0.998, 1.7004], "nice": false, "zero": false},
             "axis": {"orient": "left", "values": [1,1.05,1.1,1.15,1.2,1.25,1.3,1.35,1.4,1.45,1.5,1.55,1.6,1.65], "labelExpr": "abs(datum.value*5 - round(datum.value*5)) < 0.001 ? '' + round(datum.value*10)/10 : ''", "tickSize": {"condition": {"test": "abs(datum.value*5 - round(datum.value*5)) < 0.001", "value": -11}, "value": -5.5}, "labelPadding": 16, "title": "Intensity (rectified)", "titlePadding": 14}},
       "detail": {"field": "s", "type": "nominal"}
     }},
    {"data": {"name": "tb"}, "mark": {"type": "line", "color": "black", "strokeWidth": 2.1},
     "encoding": {
       "x": {"field": "x", "type": "quantitative", "axis": {"orient": "top", "values": [5630,5640,5650,5660,5670,5680,5690,5700,5710,5720,5730,5740,5750], "labels": false, "title": null, "tickSize": {"condition": {"test": "datum.value % 50 == 0", "value": -11}, "value": -5.5}}},
       "y": {"field": "y", "type": "quantitative", "axis": {"orient": "right", "values": [1,1.05,1.1,1.15,1.2,1.25,1.3,1.35,1.4,1.45,1.5,1.55,1.6,1.65], "labels": false, "title": null, "tickSize": {"condition": {"test": "abs(datum.value*5 - round(datum.value*5)) < 0.001", "value": -11}, "value": -5.5}}}
     }},
    {"data": {"name": "td"}, "mark": {"type": "line", "color": "black", "strokeWidth": 1, "strokeDash": [8, 5]},
     "encoding": {
       "x": {"field": "x", "type": "quantitative", "axis": null},
       "y": {"field": "y", "type": "quantitative", "axis": null}
     }}
  ]
},
{
  "width": 530, "height": 497,
  "title": {"text": "WR9", "anchor": "start", "frame": "group", "offset": -94, "dx": 16, "baseline": "alphabetic", "font": "Liberation Serif", "fontSize": 40, "fontWeight": "normal", "color": "black"},
  "resolve": {"axis": {"x": "independent", "y": "independent"}},
  "layer": [
    {"data": {"name": "b"}, "mark": {"type": "line", "color": "black", "strokeWidth": 1},
     "encoding": {
       "x": {"field": "x", "type": "quantitative", "scale": {"domain": [5621, 5753.6], "nice": false, "zero": false},
             "axis": {"orient": "bottom", "values": [5630,5640,5650,5660,5670,5680,5690,5700,5710,5720,5730,5740,5750], "labelExpr": "datum.value % 50 == 0 ? '' + datum.value : ''", "tickSize": {"condition": {"test": "datum.value % 50 == 0", "value": -11}, "value": -5.5}, "labelPadding": 19, "title": "Wavelength (Å)", "titlePadding": 0}},
       "y": {"field": "y", "type": "quantitative", "scale": {"domain": [1.125, 1.726], "nice": false, "zero": false},
             "axis": {"orient": "left", "values": [1.15,1.2,1.25,1.3,1.35,1.4,1.45,1.5,1.55,1.6,1.65,1.7], "labelExpr": "abs(datum.value*5 - round(datum.value*5)) < 0.001 ? '' + round(datum.value*10)/10 : ''", "tickSize": {"condition": {"test": "abs(datum.value*5 - round(datum.value*5)) < 0.001", "value": -11}, "value": -5.5}, "labelPadding": 16, "title": "Intensity (rectified)", "titlePadding": 14}},
       "detail": {"field": "s", "type": "nominal"}
     }},
    {"data": {"name": "bb"}, "mark": {"type": "line", "color": "black", "strokeWidth": 2.1},
     "encoding": {
       "x": {"field": "x", "type": "quantitative", "axis": {"orient": "top", "values": [5630,5640,5650,5660,5670,5680,5690,5700,5710,5720,5730,5740,5750], "labels": false, "title": null, "tickSize": {"condition": {"test": "datum.value % 50 == 0", "value": -11}, "value": -5.5}}},
       "y": {"field": "y", "type": "quantitative", "axis": {"orient": "right", "values": [1.15,1.2,1.25,1.3,1.35,1.4,1.45,1.5,1.55,1.6,1.65,1.7], "labels": false, "title": null, "tickSize": {"condition": {"test": "abs(datum.value*5 - round(datum.value*5)) < 0.001", "value": -11}, "value": -5.5}}}
     }},
    {"data": {"name": "bd"}, "mark": {"type": "line", "color": "black", "strokeWidth": 1, "strokeDash": [8, 5]},
     "encoding": {
       "x": {"field": "x", "type": "quantitative", "axis": null},
       "y": {"field": "y", "type": "quantitative", "axis": null}
     }}
  ]
}
]
}
